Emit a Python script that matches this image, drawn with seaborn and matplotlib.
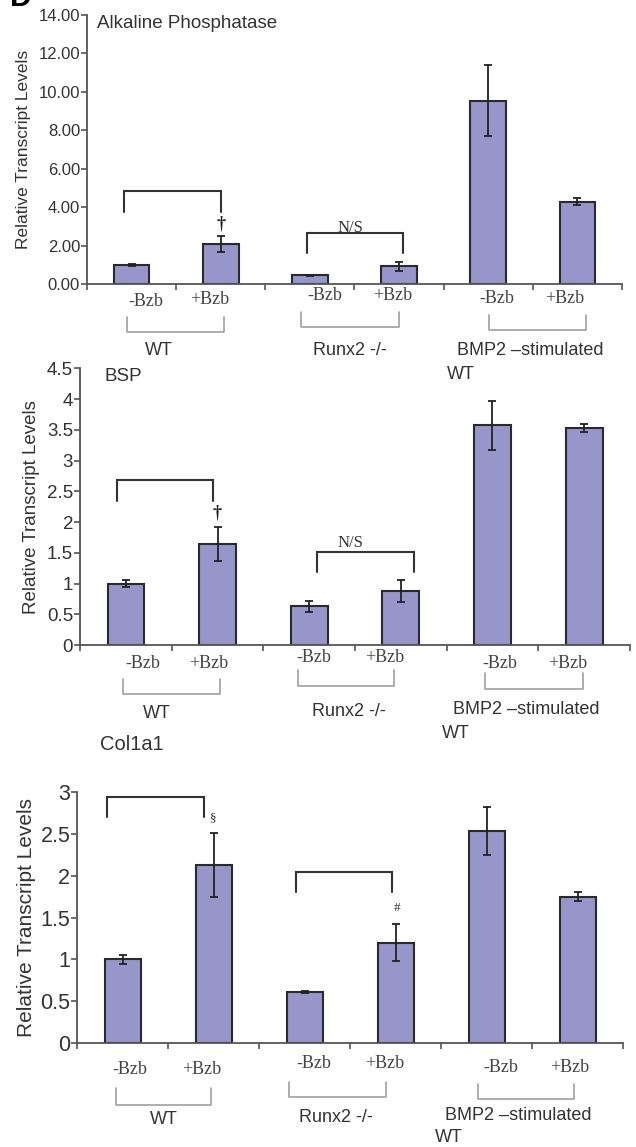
import numpy as np
import pandas as pd
import matplotlib
matplotlib.use("Agg")
import matplotlib.pyplot as plt
import seaborn as sns
from matplotlib.transforms import blended_transform_factory as blend

# ---------------- data ----------------
conditions = ["WT -Bzb", "WT +Bzb", "Runx2 -Bzb", "Runx2 +Bzb", "BMP2 -Bzb", "BMP2 +Bzb"]
treat_labels = ["-Bzb", "+Bzb", "-Bzb", "+Bzb", "-Bzb", "+Bzb"]
group_labels = ["WT", "Runx2 -/-", " BMP2 \u2013stimulated", "WT"]

alp_values = [1.00, 2.07, 0.45, 0.92, 9.55, 4.29]
alp_errors = [0.05, 0.43, 0.03, 0.24, 1.85, 0.20]

bsp_values = [1.00, 1.64, 0.63, 0.88, 3.57, 3.53]
bsp_errors = [0.06, 0.28, 0.09, 0.18, 0.40, 0.06]

col_values = [1.00, 2.13, 0.615, 1.20, 2.53, 1.75]
col_errors = [0.05, 0.38, 0.01, 0.22, 0.29, 0.05]

panel_titles = ["Alkaline Phosphatase", "BSP", "Col1a1"]
y_label = "Relative Transcript Levels"

# significance annotations: (x_left, x_right, y_top, y_leg, label, label_x, label_y)
alp_sig = [(-0.085, 1.0, 4.84, 3.77, "\u2020", 1.0, 3.12),
           (1.97, 3.04, 2.67, 1.60, "N/S", 2.45, 2.93)]
bsp_sig = [(-0.10, 0.95, 2.68, 2.35, "\u2020", 0.99, 2.15),
           (2.08, 3.14, 1.52, 1.19, "N/S", 2.45, 1.66)]
col_sig = [(-0.17, 0.89, 2.94, 2.70, "\u00a7", 0.99, 2.68),
           (1.90, 2.96, 2.045, 1.81, "#", 3.01, 1.61)]

# ---------------- style ----------------
sns.set_style("white")
plt.rcParams["font.family"] = ["Liberation Sans", "DejaVu Sans"]
SERIF = ["Liberation Serif", "DejaVu Serif"]
FILL = "#9696ca"
EDGE = "#2a2a2a"
AX_C = "#555555"
TXT = "#333333"
GRAY = "#a0a0a0"

W, H = 636, 1147
fig = plt.figure(figsize=(W / 100, H / 100), dpi=100)

panels = [
    dict(vals=alp_values, errs=alp_errors, sig=alp_sig, title=panel_titles[0],
         geom=(87, 622, 15, 284), ymax=14, ystep=2, fmt="%.2f", tick_fs=12, ylab_fs=12.5,
         ylab_x=-0.105, title_pos=(0.019, 0.970), title_fs=13.5,
         treat_x=[0.16, 0.88, 2.17, 2.93, 4.10, 4.86],
         treat_y=[302, 300, 296, 296, 299, 299],
         gb=[(-0.05, 1.04, 317, 332), (1.90, 3.00, 312, 327), (4.01, 5.10, 315, 330)],
         gl=[(0.31, 351, "center"), (2.45, 351, "center"), (3.59, 351, "left"), (3.54, 375, "left")]),
    dict(vals=bsp_values, errs=bsp_errors, sig=bsp_sig, title=panel_titles[1],
         geom=(80, 630, 368.3, 645), ymax=4.5, ystep=0.5, fmt="%g", tick_fs=13.5, ylab_fs=13.5,
         ylab_x=-0.073, title_pos=(0.045, 0.970), title_fs=13.5,
         treat_x=[0.18, 0.90, 2.05, 2.82, 4.08, 4.82],
         treat_y=[663, 663, 658, 658, 664, 664],
         gb=[(-0.03, 1.03, 679, 694), (1.88, 2.93, 670, 686), (3.92, 4.99, 673, 689)],
         gl=[(0.34, 714, "center"), (2.43, 711, "center"), (3.51, 710, "left"), (3.45, 734, "left")]),
    dict(vals=col_values, errs=col_errors, sig=col_sig, title=panel_titles[2],
         geom=(77.3, 623.3, 791.7, 1043.3), ymax=3, ystep=0.5, fmt="%g", tick_fs=15.5, ylab_fs=15,
         ylab_x=-0.076, title_pos=(0.042, 1.186), title_fs=14.5,
         treat_x=[0.08, 0.87, 2.10, 2.88, 4.15, 4.91],
         treat_y=[1070, 1070, 1063, 1063, 1067, 1067],
         gb=[(-0.08, 0.97, 1088, 1105), (1.83, 2.89, 1082, 1097), (3.90, 4.96, 1084, 1099)],
         gl=[(0.45, 1119, "center"), (2.34, 1117, "center"), (3.49, 1115, "left"), (3.43, 1137, "left")]),
]

for p in panels:
    l, r, t, b = p["geom"]
    ax = fig.add_axes([l / W, 1 - b / H, (r - l) / W, (b - t) / H])
    ax.patch.set_visible(False)
    yax = lambda py, b=b, t=t: (b - py) / (b - t)
    df = pd.DataFrame({"condition": conditions, "value": p["vals"]})
    sns.barplot(data=df, x="condition", y="value", order=conditions, color=FILL,
                saturation=1, edgecolor=EDGE, linewidth=1.5, width=0.4,
                errorbar=None, ax=ax)
    ax.errorbar(np.arange(len(conditions)), p["vals"], yerr=p["errs"], fmt="none",
                ecolor="#222222", elinewidth=1.3, capsize=3, capthick=1.3, zorder=5)
    ax.set_xlim(-0.5, len(conditions) - 0.5)
    ax.set_ylim(0, p["ymax"])
    ax.set_yticks(np.arange(0, p["ymax"] + 1e-9, p["ystep"]))
    ax.yaxis.set_major_formatter(matplotlib.ticker.FormatStrFormatter(p["fmt"]))
    ax.set_xticks(np.arange(-0.5, len(conditions), 1.0))
    ax.set_xticklabels([])
    ax.set_xlabel("")
    ax.set_ylabel(y_label, fontsize=p["ylab_fs"], color=TXT)
    ax.yaxis.set_label_coords(p["ylab_x"], 0.5)
    for s in ["top", "right"]:
        ax.spines[s].set_visible(False)
    for s in ["left", "bottom"]:
        ax.spines[s].set_color(AX_C)
        ax.spines[s].set_linewidth(1.3)
    ax.tick_params(axis="y", direction="out", length=4, width=1.2, color=AX_C,
                   labelsize=p["tick_fs"], labelcolor=TXT, pad=1, left=True)
    ax.tick_params(axis="x", direction="out", length=4.5, width=1.2, color=AX_C, bottom=True)

    # panel title
    ax.text(p["title_pos"][0], p["title_pos"][1], p["title"], transform=ax.transAxes,
            ha="left", va="center", fontsize=p["title_fs"], color=TXT, clip_on=False)

    # significance brackets
    for (x0, x1, yt, yl, lab, lx, ly) in p["sig"]:
        ax.plot([x0, x0, x1, x1], [yl, yt, yt, yl], color="#333333", lw=1.5,
                solid_joinstyle="miter", clip_on=False)
        if lab == "N/S":
            ax.text(lx, ly, lab, ha="center", va="center", fontsize=12,
                    family=SERIF, color="#333333")
        elif lab == "\u2020":
            ax.text(lx, ly, lab, ha="center", va="center", fontsize=13,
                    family=SERIF, color="#222222", fontweight="bold")
        else:
            ax.text(lx, ly, lab, ha="center", va="center", fontsize=9.5,
                    family=SERIF, color="#333333")

    tr = blend(ax.transData, ax.transAxes)
    # treatment labels
    for lab, x, py in zip(treat_labels, p["treat_x"], p["treat_y"]):
        ax.text(x, yax(py), lab, transform=tr, ha="center", va="center",
                fontsize=13, family=SERIF, color="#444444", clip_on=False)
    # group brackets
    for (x0, x1, pt, pb) in p["gb"]:
        ax.plot([x0, x0, x1, x1], [yax(pt), yax(pb), yax(pb), yax(pt)], transform=tr,
                color=GRAY, lw=1.2, clip_on=False)
    # group labels
    for lab, (x, py, ha) in zip(group_labels, p["gl"]):
        ax.text(x, yax(py), lab, transform=tr, ha=ha, va="center", fontsize=13,
                color=TXT, clip_on=False)

# panel letter (partly cut off at the top edge, as in the source figure)
fig.text(10 / W, 1 - 6 / H, "D", fontsize=22, fontweight="bold", ha="left",
         va="baseline", color="black")

fig.savefig("out.png", dpi=100)
